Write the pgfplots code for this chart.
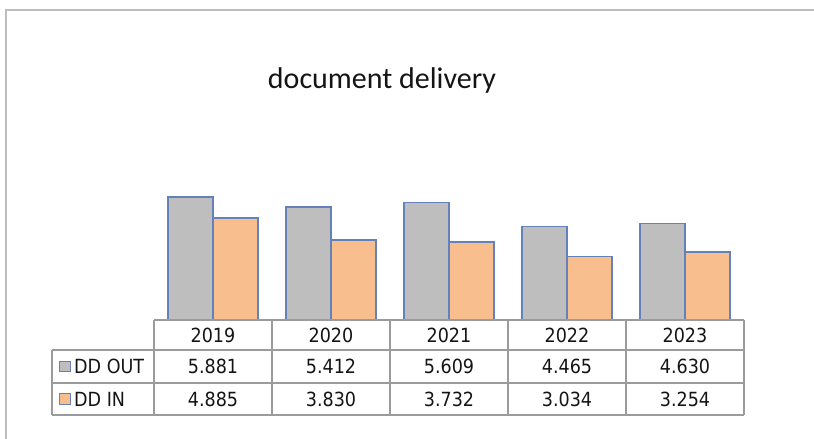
\documentclass[border=0pt]{standalone}
\usepackage{pgfplots}
\pgfplotsset{compat=1.18}
\usepackage{fontspec}
\setmainfont{DejaVu Sans Condensed}
\newfontfamily\titlefont{Carlito}
\definecolor{barblue}{RGB}{100,130,185}
\definecolor{ddout}{RGB}{190,190,190}
\definecolor{ddin}{RGB}{249,190,142}
\definecolor{gridgray}{RGB}{155,155,155}
\definecolor{framegray}{RGB}{190,190,190}
\definecolor{txt}{RGB}{20,20,20}
\begin{document}
\begin{tikzpicture}[x=1bp,y=1bp]
\useasboundingbox (0,0) rectangle (814,439);
% outer frame (top and left)
\draw[framegray, line width=2.5bp] (830,429) -- (6,429) -- (6,-10);
% title
\node[txt, font=\titlefont\fontsize{30bp}{34bp}\selectfont] at (382,358) {document delivery};
\begin{axis}[
  at={(154bp,119bp)}, anchor=south west,
  scale only axis, width=590bp, height=167.2bp,
  xmin=-0.5, xmax=4.5, ymin=0, ymax=8,
  hide axis,
  ybar, bar width=45bp,
]
\addplot[fill=ddout, draw=barblue, line width=1.3bp, bar shift=-22.5bp]
  coordinates {(0,5.881) (1,5.412) (2,5.609) (3,4.465) (4,4.630)};
\addplot[fill=ddin, draw=barblue, line width=1.3bp, bar shift=22.5bp]
  coordinates {(0,4.885) (1,3.830) (2,3.732) (3,3.034) (4,3.254)};
\end{axis}
% data table grid
\begin{scope}[gridgray, line width=1.6bp]
  \draw (154,119) -- (744,119);
  \draw (52,89) -- (744,89);
  \draw (52,56) -- (744,56);
  \draw (52,24) -- (744,24);
  \draw (52,89) -- (52,24);
  \foreach \x in {154,272,390,508,626,744} \draw (\x,119) -- (\x,24);
\end{scope}
\begin{scope}[every node/.style={txt, font=\fontsize{19.5bp}{23bp}\selectfont}]
  \node at (213,104) {2019};
  \node at (331,104) {2020};
  \node at (449,104) {2021};
  \node at (567,104) {2022};
  \node at (685,104) {2023};
  \node at (213,72.5) {5.881};
  \node at (331,72.5) {5.412};
  \node at (449,72.5) {5.609};
  \node at (567,72.5) {4.465};
  \node at (685,72.5) {4.630};
  \node at (213,40) {4.885};
  \node at (331,40) {3.830};
  \node at (449,40) {3.732};
  \node at (567,40) {3.034};
  \node at (685,40) {3.254};
  \node[anchor=west, inner sep=0pt] at (74,72.5) {DD OUT};
  \node[anchor=west, inner sep=0pt] at (74,40) {DD IN};
\end{scope}
\draw[barblue, fill=ddout, line width=1bp] (59.5,67) rectangle (70,77.5);
\draw[barblue, fill=ddin, line width=1bp] (59.5,34.5) rectangle (70,45);
\end{tikzpicture}
\end{document}
